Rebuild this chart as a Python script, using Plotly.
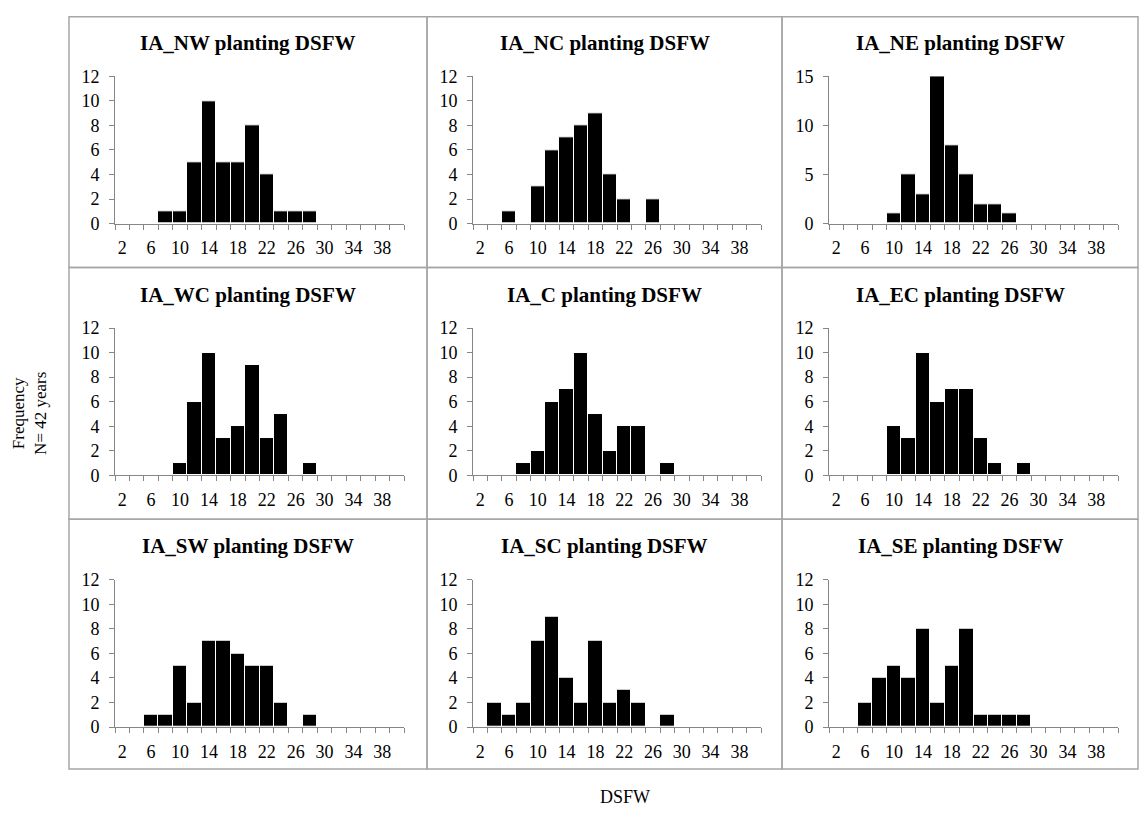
import plotly.graph_objects as go

W, H = 1139, 818

categories = list(range(2, 41, 2))
x_tick_labels = [2, 6, 10, 14, 18, 22, 26, 30, 34, 38]

titles = ["IA_NW planting DSFW", "IA_NC planting DSFW", "IA_NE planting DSFW",
          "IA_WC planting DSFW", "IA_C planting DSFW", "IA_EC planting DSFW",
          "IA_SW planting DSFW", "IA_SC planting DSFW", "IA_SE planting DSFW"]

ia_nw = [0, 0, 0, 1, 1, 5, 10, 5, 5, 8, 4, 1, 1, 1, 0, 0, 0, 0, 0, 0]
ia_nc = [0, 0, 1, 0, 3, 6, 7, 8, 9, 4, 2, 0, 2, 0, 0, 0, 0, 0, 0, 0]
ia_ne = [0, 0, 0, 0, 1, 5, 3, 15, 8, 5, 2, 2, 1, 0, 0, 0, 0, 0, 0, 0]
ia_wc = [0, 0, 0, 0, 1, 6, 10, 3, 4, 9, 3, 5, 0, 1, 0, 0, 0, 0, 0, 0]
ia_c = [0, 0, 0, 1, 2, 6, 7, 10, 5, 2, 4, 4, 0, 1, 0, 0, 0, 0, 0, 0]
ia_ec = [0, 0, 0, 0, 4, 3, 10, 6, 7, 7, 3, 1, 0, 1, 0, 0, 0, 0, 0, 0]
ia_sw = [0, 0, 1, 1, 5, 2, 7, 7, 6, 5, 5, 2, 0, 1, 0, 0, 0, 0, 0, 0]
ia_sc = [0, 2, 1, 2, 7, 9, 4, 2, 7, 2, 3, 2, 0, 1, 0, 0, 0, 0, 0, 0]
ia_se = [0, 0, 2, 4, 5, 4, 8, 2, 5, 8, 1, 1, 1, 1, 0, 0, 0, 0, 0, 0]

series = [ia_nw, ia_nc, ia_ne, ia_wc, ia_c, ia_ec, ia_sw, ia_sc, ia_se]
y_max = [12, 12, 15, 12, 12, 12, 12, 12, 12]
y_step = [2, 2, 5, 2, 2, 2, 2, 2, 2]

# layout geometry (pixels)
col_box = [(69, 427), (427, 782), (782, 1138)]
row_box = [(7, 264), (264, 522), (522, 778)]
col_plot = [(115, 404), (473, 761), (829, 1118)]
row_plot = [(68, 219), (326, 477), (584, 735)]
title_y = [34, 292, 549]

FONT = "Liberation Serif, Times New Roman, DejaVu Serif, serif"
AXC = "#868686"

fig = go.Figure()
shapes = []
annotations = []

for i, vals in enumerate(series):
    r, c = divmod(i, 3)
    n = i + 1
    xa = "x" if n == 1 else f"x{n}"
    ya = "y" if n == 1 else f"y{n}"
    fig.add_trace(go.Bar(
        x=categories, y=vals, xaxis=xa, yaxis=ya,
        marker=dict(color="black", line=dict(color="white", width=1)),
        width=2, showlegend=False, hoverinfo="x+y",
    ))
    x0, x1 = col_plot[c]
    y0, y1 = row_plot[r]
    xkey = "xaxis" if n == 1 else f"xaxis{n}"
    ykey = "yaxis" if n == 1 else f"yaxis{n}"
    fig.update_layout(**{
        xkey: dict(
            domain=[x0 / W, x1 / W], anchor=ya, range=[1, 41],
            tickmode="array", tickvals=x_tick_labels,
            ticktext=[str(v) for v in x_tick_labels],
            ticks="", showgrid=False, zeroline=False,
            showline=True, linecolor=AXC, linewidth=1,
            minor=dict(tick0=1, dtick=2, ticks="outside", ticklen=5,
                       tickcolor=AXC, tickwidth=1, showgrid=False),
            ticklabelstandoff=8,
            tickfont=dict(family=FONT, size=18, color="black"),
            fixedrange=True,
        ),
        ykey: dict(
            domain=[1 - y1 / H, 1 - y0 / H], anchor=xa,
            range=[0, y_max[i]], dtick=y_step[i], tick0=0,
            ticks="outside", ticklen=5, tickcolor=AXC, tickwidth=1,
            showgrid=False, zeroline=False,
            showline=True, linecolor=AXC, linewidth=1,
            ticklabelstandoff=6,
            tickfont=dict(family=FONT, size=18, color="black"),
            fixedrange=True,
        ),
    })
    bx0, bx1 = col_box[c]
    by0, by1 = row_box[r]
    shapes.append(dict(type="rect", xref="paper", yref="paper",
                       x0=bx0 / W, x1=bx1 / W, y0=1 - by1 / H, y1=1 - by0 / H,
                       line=dict(color="#a6a6a6", width=1.5), layer="below"))
    annotations.append(dict(text=f"<b>{titles[i]}</b>", xref="paper", yref="paper",
                            x=(bx0 + bx1) / 2 / W, y=1 - title_y[r] / H,
                            xanchor="center", yanchor="middle", showarrow=False,
                            font=dict(family=FONT, size=21, color="black")))

annotations.append(dict(text="Frequency<br>N= 42 years", xref="paper", yref="paper",
                        x=30 / W, y=1 - 414 / H, textangle=-90,
                        xanchor="center", yanchor="middle", showarrow=False,
                        font=dict(family=FONT, size=17, color="black")))
annotations.append(dict(text="DSFW", xref="paper", yref="paper",
                        x=625 / W, y=1 - 807 / H,
                        xanchor="center", yanchor="middle", showarrow=False,
                        font=dict(family=FONT, size=18, color="black")))

fig.update_layout(
    width=W, height=H, margin=dict(l=0, r=0, t=0, b=0),
    paper_bgcolor="white", plot_bgcolor="white",
    bargap=0, shapes=shapes, annotations=annotations,
    font=dict(family=FONT, color="black"),
)

fig.write_html("out.html")
